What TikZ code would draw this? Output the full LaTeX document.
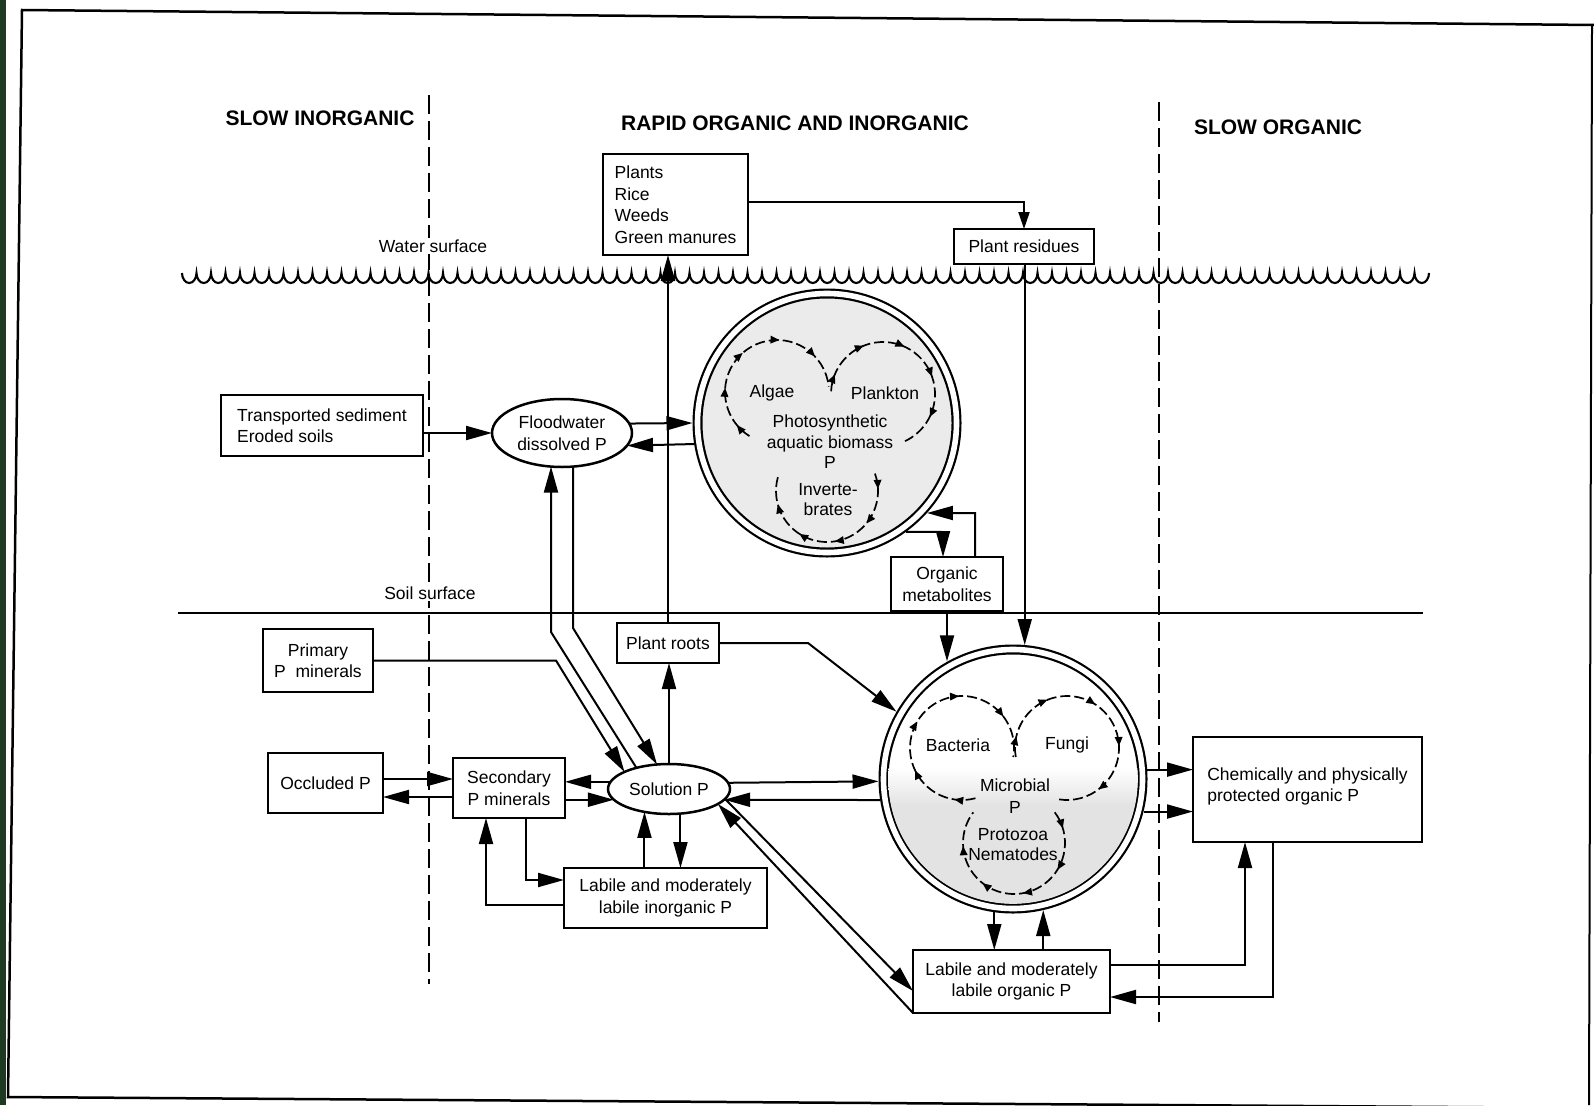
\documentclass[tikz,border=0pt]{standalone}
\usepackage{fontspec}
\setmainfont{Liberation Sans}
\usetikzlibrary{arrows.meta,shapes.geometric,calc,decorations.markings}

\definecolor{scanedge}{RGB}{30,58,32}

\tikzset{
  every node/.style={font=\fontsize{17.5}{21.5}\selectfont},
  box/.style={draw, line width=2.5pt, rectangle, inner sep=0pt, outer sep=0pt, align=center},
  oval/.style={draw, line width=2.5pt, ellipse, inner sep=0pt, outer sep=0pt, align=center},
  dcirc/.style={circle, draw, line width=2.2pt, double=white, double distance=5.6pt,
                minimum size=259pt, inner sep=0pt, outer sep=5pt},
  lbl/.style={inner sep=0pt, align=center},
  hdr/.style={inner sep=0pt, font=\fontsize{21}{25}\selectfont\bfseries},
  conn/.style={line width=2pt, -{Triangle[length=26pt,width=14pt]}},
  thin conn/.style={line width=2pt, -{Triangle[length=17pt,width=11pt]}},
  divider/.style={line width=2.2pt, dash pattern=on 19pt off 7pt},
  cycle arc/.style={line width=1.7pt, dash pattern=on 10pt off 4pt,
    postaction={decorate},
    decoration={markings,
      mark=at position 0.08 with {\arrow{Triangle[length=9pt,width=7.5pt]}},
      mark=at position 0.27 with {\arrow{Triangle[length=9pt,width=7.5pt]}},
      mark=at position 0.46 with {\arrow{Triangle[length=9pt,width=7.5pt]}},
      mark=at position 0.65 with {\arrow{Triangle[length=9pt,width=7.5pt]}},
      mark=at position 0.84 with {\arrow{Triangle[length=9pt,width=7.5pt]}}}},
}

\begin{document}
\begin{tikzpicture}[x=1pt,y=-1pt]
\useasboundingbox (0,0) rectangle (1594,1105);
\fill[white] (0,0) rectangle (1594,1105);

% page edge and frame
\fill[scanedge] (0,0) rectangle (6,1105);
\draw[line width=2.5pt] (1594,25) -- (22,10) -- (8,1097) -- (1594,1108);
\draw[line width=2pt] (1592,25) -- (1589,1105);

% column headings
\node[hdr] (hSI) at (320,118) {SLOW INORGANIC};
\node[hdr] (hRO) at (795,123) {RAPID ORGANIC AND INORGANIC};
\node[hdr] (hSO) at (1278,127) {SLOW ORGANIC};

% column dividers
\draw[divider] (429,95) -- (429,984);
\draw[divider] (1159,102) -- (1159,1022);

% water surface (scalloped) and soil surface
\draw[line width=2.1pt] (182,273)
  \foreach \i in {0,...,85} { arc[start angle=180, end angle=0, x radius=7.25, y radius=10] };
\draw[line width=2.5pt] (178,613) -- (1423,613);
\node[lbl, fill=white, inner sep=2pt] (water) at (433,246) {Water surface};
\node[lbl, fill=white, inner sep=2pt] (soil) at (430,593) {Soil surface};

% compartments
\node[box, minimum width=145pt, minimum height=101pt, align=left] (plants) at (675.5,204.5)
  {Plants\\Rice\\Weeds\\Green manures};
\node[box, minimum width=140pt, minimum height=35pt] (res) at (1024,246.5) {Plant residues};
\node[box, minimum width=202pt, minimum height=61pt, align=left] (trans) at (322,425.5)
  {Transported sediment\\Eroded soils};
\node[oval, minimum width=140pt, minimum height=68pt] (fw) at (562,433) {Floodwater\\dissolved P};
\node[dcirc, fill=black!8] (alg) at (827,423) {};
\node[box, minimum width=112pt, minimum height=54pt] (met) at (947,584) {Organic\\metabolites};
\node[box, minimum width=110pt, minimum height=63pt] (prim) at (318,660.5) {Primary\\P\ \ minerals};
\node[box, minimum width=102pt, minimum height=40pt] (roots) at (668,643) {Plant roots};
\node[box, minimum width=115pt, minimum height=60pt] (occ) at (325.5,783) {Occluded P};
\node[box, minimum width=112pt, minimum height=60pt] (sec) at (509,788) {Secondary\\P minerals};
\node[oval, minimum width=122pt, minimum height=50pt] (sol) at (669,789) {Solution P};
\node[box, minimum width=203pt, minimum height=60pt] (labI) at (665.5,898)
  {Labile and moderately\\labile inorganic P};
\node[dcirc] (mic) at (1013,779) {};
\node[box, minimum width=229pt, minimum height=105pt, align=left] (chem) at (1307.5,789.5)
  {Chemically and physically\\protected organic P\\[-11.5pt]};
\node[box, minimum width=197pt, minimum height=63pt] (labO) at (1011.5,981.5)
  {Labile and moderately\\labile organic P};

% shaded lower part of the microbial pool
\begin{scope}
  \clip (mic.center) circle[radius=124.8];
  \shade[top color=white, bottom color=black!11] (860,768) rectangle (1170,805);
  \fill[black!11] (860,804.5) rectangle (1170,930);
\end{scope}

% cycles inside the aquatic biomass pool
\draw[cycle arc] ($(777,392)+(122:52)$) arc[start angle=122, end angle=354, radius=52];
\draw[cycle arc] ($(883,394)+(183:52)$) arc[start angle=183, end angle=425, radius=52];
\draw[cycle arc] ($(827,491)+(-20:51)$) arc[start angle=-20, end angle=200, radius=51];
\node[lbl] (algae) at (772,393) {Algae};
\node[lbl] (plankton) at (885,393) {Plankton};
\node[lbl, font=\fontsize{17.5}{20.5}\selectfont] (photo) at (830,442)
  {Photosynthetic\\aquatic biomass\\P};
\node[lbl, font=\fontsize{17.5}{20}\selectfont] (invert) at (828,500) {Inverte-\\brates};

% cycles inside the microbial pool
\draw[cycle arc] ($(962,748)+(75:52)$) arc[start angle=75, end angle=370, radius=52];
\draw[cycle arc] ($(1067,748)+(170:52)$) arc[start angle=170, end angle=459, radius=52];
\draw[cycle arc] ($(1014,843)+(-37:51)$) arc[start angle=-37, end angle=217, radius=51];
\node[lbl] (bact) at (958,745) {Bacteria};
\node[lbl] (fungi) at (1067,745) {Fungi};
\node[lbl] (micP) at (1015,796) {Microbial\\P};
\node[lbl, font=\fontsize{17.5}{20}\selectfont] (proto) at (1013,845) {Protozoa\\Nematodes};

% bend points and levels
\coordinate (bendL) at (551,632);
\coordinate (bendR) at (573,628);
\coordinate (bendP) at (556,660.5);
\coordinate (bendRt) at (808,643);
\coordinate (lvA) at (0,779);
\coordinate (lvB) at (0,797);
\coordinate (lvC) at (0,991);
\coordinate (kA) at (526,880);
\coordinate (kB) at (486,905);
\coordinate (kC) at (1245,965);
\coordinate (kD) at (1273,997);
\coordinate (kE) at (943,532);
\coordinate (kF) at (975,513);
\coordinate (lvP) at (0,202);

% flows above the soil
\draw[thin conn] (plants.east |- lvP) -| (res.north);
\draw[conn] (trans.east |- fw.west) -- (fw.west);
\draw[conn] (fw.8.5) -- (alg.180);
\draw[conn] (alg.189.85) -- (fw.-11.4);
\draw[conn] (alg.-54.1) -- (kE) -- (kE |- met.north);
\draw[conn] (kF |- met.north) -- (kF) -- (alg.-42);
\draw[conn] (met.south) -- (met.south |- mic.119.4);
\draw[conn] (mic.85.3 |- res.south) -- (mic.85.3);
\draw[conn] (roots.north) -- (roots.north |- plants.south);

% floodwater and solution exchange
\draw[conn] (sol.147.5) -- (bendL) -- (bendL |- fw.-108);
\draw[conn] (bendR |- fw.-72) -- (bendR) -- (sol.116);
\draw[conn] (prim.east) -- (bendP) -- (sol.159.4);

% inorganic flows
\draw[conn] (sol.north) -- (sol.north |- roots.south);
\draw[conn] (roots.east) -- (bendRt) -- (mic.150);
\draw[conn] (sol.173.2) -- (sol.173.2 -| sec.east);
\draw[conn] (sol.191.4 -| sec.east) -- (sol.191.4);
\draw[conn] (occ.east |- lvA) -- (sec.west |- lvA);
\draw[conn] (sec.west |- lvB) -- (occ.east |- lvB);
\draw[conn] (kA |- sec.south) -- (kA) -- (labI.west |- kA);
\draw[conn] (labI.west |- kB) -- (kB) -- (kB |- sec.south);
\draw[conn] (sol.223.8 |- labI.north) -- (sol.223.8);
\draw[conn] (sol.-65.9) -- (sol.-65.9 |- labI.north);

% organic flows
\draw[conn] (sol.6.8) -- (mic.181.3);
\draw[conn] (mic.189) -- (sol.-11.35);
\draw[conn] (sol.-10.1) -- (labO.west |- lvC);
\draw[conn] (labO.south west) -- (sol.-17.8);
\draw[conn] (mic.4.69) -- (mic.4.69 -| chem.west);
\draw[conn] (mic.-14.64) -- (mic.-14.64 -| chem.west);
\draw[conn] (mic.-98.55) -- (mic.-98.55 |- labO.north);
\draw[conn] (mic.-77.1 |- labO.north) -- (mic.-77.1);
\draw[conn] (labO.east |- kC) -- (kC) -- (kC |- chem.south);
\draw[conn] (kD |- chem.south) -- (kD) -- (labO.east |- kD);
\end{tikzpicture}
\end{document}
